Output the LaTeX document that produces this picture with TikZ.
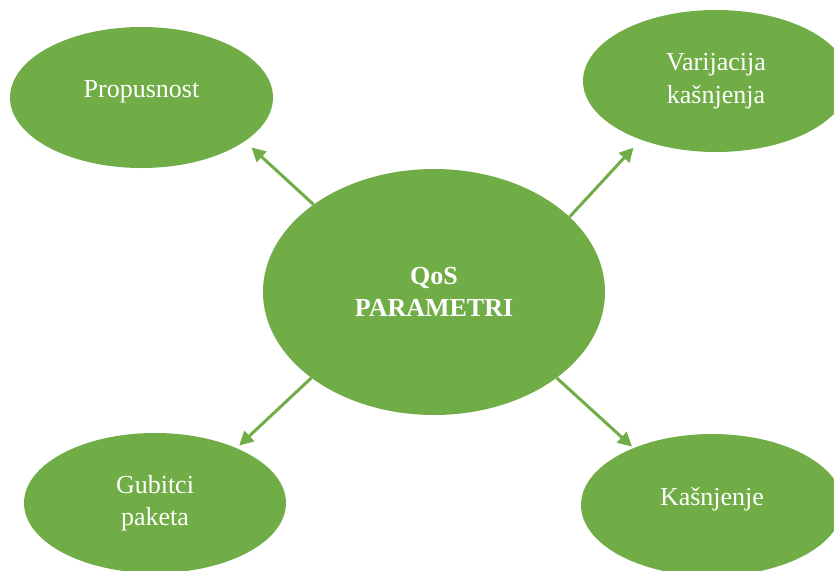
\documentclass[tikz,border=0pt]{standalone}
\usepackage{fontspec}
\setmainfont{Liberation Serif}
\usetikzlibrary{shapes.geometric,arrows.meta}
\definecolor{qosgreen}{HTML}{70AD47}

\begin{document}
\begin{tikzpicture}[x=1pt,y=-1pt,
    bubble/.style={ellipse, fill=qosgreen, text=white, inner sep=0pt, align=center,
        font=\fontsize{26}{32.5}\selectfont, minimum width=263pt, minimum height=141pt},
    oneline/.style={text height=.5em, text depth=.5em},
    arr/.style={qosgreen, line width=3pt, -{Triangle[length=14pt,width=14pt]}}]
    \useasboundingbox (0,0) rectangle (834,570);
    \node[bubble, minimum width=342pt, minimum height=246pt,
        font=\fontsize{26}{32}\selectfont\bfseries] (qos) at (434,292) {QoS\\PARAMETRI};
    \node[bubble, oneline] (prop) at (141.5,97.5) {Propusnost};
    \node[bubble, minimum width=266pt, minimum height=142pt] (var) at (716,81) {Varijacija\\kašnjenja};
    \node[bubble, minimum width=262pt, minimum height=140pt] (gub) at (155,503) {Gubitci\\paketa};
    \node[bubble, oneline, minimum width=262pt, minimum height=142pt] (kas) at (712,505) {Kašnjenje};
    \draw[arr, shorten >=9pt] (qos.144.6) -- (prop.-23.3);
    \draw[arr, shorten >=10.7pt] (qos.29.6) -- (var.-142.3);
    \draw[arr, shorten >=3.6pt] (qos.215.4) -- (gub.34.2);
    \draw[arr, shorten >=2pt] (qos.-35.4) -- (kas.144.1);
\end{tikzpicture}
\end{document}
